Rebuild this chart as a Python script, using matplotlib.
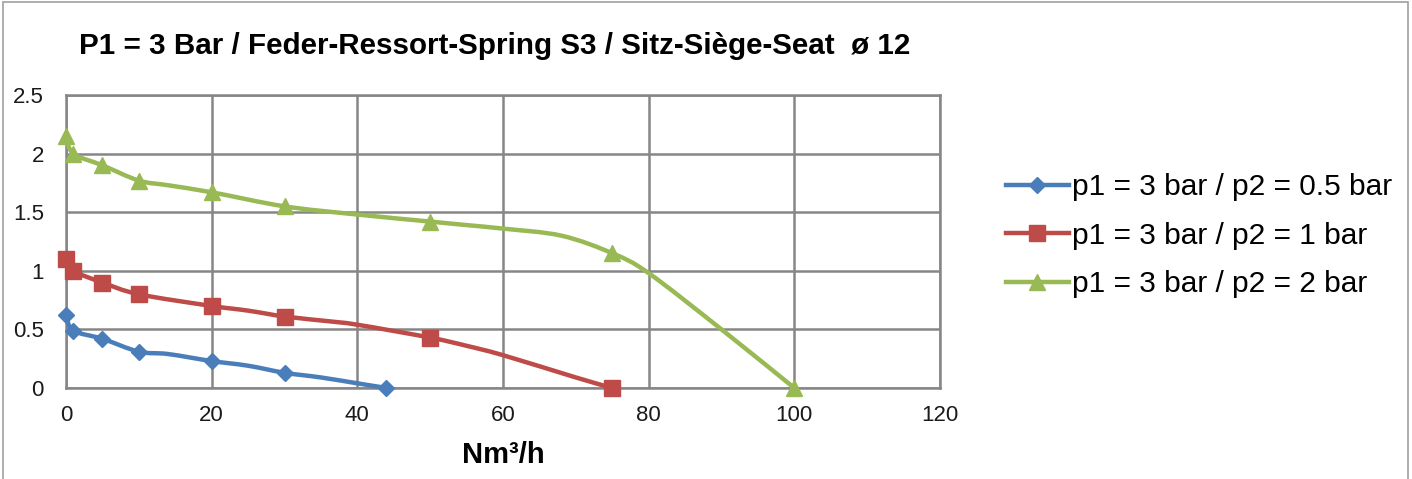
import matplotlib
matplotlib.use("Agg")
import matplotlib.pyplot as plt
from matplotlib.path import Path
from matplotlib.patches import PathPatch, Rectangle
from matplotlib.lines import Line2D

plt.rcParams['font.family'] = ['Liberation Sans', 'DejaVu Sans']

title = "P1 = 3 Bar / Feder-Ressort-Spring S3 / Sitz-Siège-Seat  ø 12"
xlabel = "Nm³/h"
labels = ["p1 = 3 bar / p2 = 0.5 bar", "p1 = 3 bar / p2 = 1 bar", "p1 = 3 bar / p2 = 2 bar"]
colors = ["#4a7ebb", "#be4b48", "#98b954"]
markers = ["D", "s", "^"]

# marked data points
blue_x = [0, 1, 5, 10, 20, 30, 44]
blue_y = [0.62, 0.49, 0.42, 0.31, 0.23, 0.13, 0.0]
red_x = [0, 1, 5, 10, 20, 30, 50, 75]
red_y = [1.10, 1.00, 0.90, 0.80, 0.70, 0.61, 0.43, 0.0]
green_x = [0, 1, 5, 10, 20, 30, 50, 75, 100]
green_y = [2.15, 2.00, 1.90, 1.77, 1.67, 1.55, 1.42, 1.15, 0.0]

# curve points (line passes through these)
blue_cx = [0, 1, 5, 10, 14, 20, 25, 30, 35, 40, 44]
blue_cy = [0.62, 0.49, 0.42, 0.31, 0.29, 0.23, 0.19, 0.13, 0.09, 0.04, 0.0]
red_cx = [0, 1, 5, 10, 20, 25, 30, 36, 40, 50, 55, 60, 70, 75]
red_cy = [1.10, 1.00, 0.90, 0.80, 0.70, 0.66, 0.61, 0.57, 0.54, 0.43, 0.36, 0.28, 0.09, 0.0]
green_cx = [0, 1, 5, 10, 14, 20, 30, 40, 50, 55, 60, 68, 75, 80, 90, 100]
green_cy = [2.15, 2.00, 1.90, 1.77, 1.73, 1.67, 1.55, 1.48, 1.42, 1.39, 1.36, 1.30, 1.15, 0.98, 0.50, 0.0]

xticks = [0, 20, 40, 60, 80, 100, 120]
yticks = [0, 0.5, 1, 1.5, 2, 2.5]
ytick_labels = ["0", "0.5", "1", "1.5", "2", "2.5"]


def smooth_path(xs, ys):
    pts = list(zip(xs, ys))
    verts = [pts[0]]
    codes = [Path.MOVETO]
    n = len(pts)
    for i in range(n - 1):
        p0 = pts[i - 1] if i > 0 else pts[i]
        p1 = pts[i]
        p2 = pts[i + 1]
        p3 = pts[i + 2] if i + 2 < n else pts[i + 1]
        t = 1 / 6.0
        c1 = (p1[0] + (p2[0] - p0[0]) * t, p1[1] + (p2[1] - p0[1]) * t)
        c2 = (p2[0] - (p3[0] - p1[0]) * t, p2[1] - (p3[1] - p1[1]) * t)
        verts += [c1, c2, p2]
        codes += [Path.CURVE4] * 3
    return Path(verts, codes)


fig = plt.figure(figsize=(14.12, 4.79), dpi=100)
fig.patches.append(Rectangle((3 / 1412, -0.1), 1405 / 1412, 1.1 - 2 / 479,
                             transform=fig.transFigure, fill=False,
                             edgecolor="#a0a0a0", linewidth=1.2))

ax = fig.add_axes([66 / 1412, 91 / 479, 874 / 1412, 293 / 479])
ax.set_xlim(0, 120)
ax.set_ylim(0, 2.5)
ax.set_xticks(xticks)
ax.set_yticks(yticks)
ax.set_yticklabels(ytick_labels)
ax.grid(True, color="#868686", linewidth=1.8)
ax.set_axisbelow(True)
for s in ax.spines.values():
    s.set_color("#868686")
    s.set_linewidth(1.8)
ax.tick_params(length=0, labelsize=16, colors="#1a1a1a")
ax.tick_params(axis='x', pad=12)
ax.tick_params(axis='y', pad=16)

series = [(blue_x, blue_y, blue_cx, blue_cy), (red_x, red_y, red_cx, red_cy),
          (green_x, green_y, green_cx, green_cy)]
ms = [8.5, 11, 11.5]
handles = []
for (mx, my, cx, cy), c, m, s, lab in zip(series, colors, markers, ms, labels):
    ax.add_patch(PathPatch(smooth_path(cx, cy), facecolor="none", edgecolor=c,
                           linewidth=3.2, capstyle="round", joinstyle="round",
                           clip_on=False, zorder=3))
    ax.plot(mx, my, linestyle="none", marker=m, color=c, markersize=s,
            clip_on=False, zorder=4)
    handles.append(Line2D([], [], color=c, linewidth=3.2, marker=m, markersize=s))

ax.set_xlabel(xlabel, fontsize=21, fontweight="bold", labelpad=11)

fig.text(495 / 1412, 1 - 46 / 479, title, fontsize=21.3, fontweight="bold",
         ha="center", va="center")

fig.legend(handles, labels, loc="upper left", bbox_to_anchor=(1006 / 1412, 1 - 173 / 479),
           frameon=False, fontsize=21.5, handlelength=2.1, handletextpad=0.12,
           labelspacing=0.69, borderaxespad=0, borderpad=0)

fig.savefig("out.png", dpi=100)
